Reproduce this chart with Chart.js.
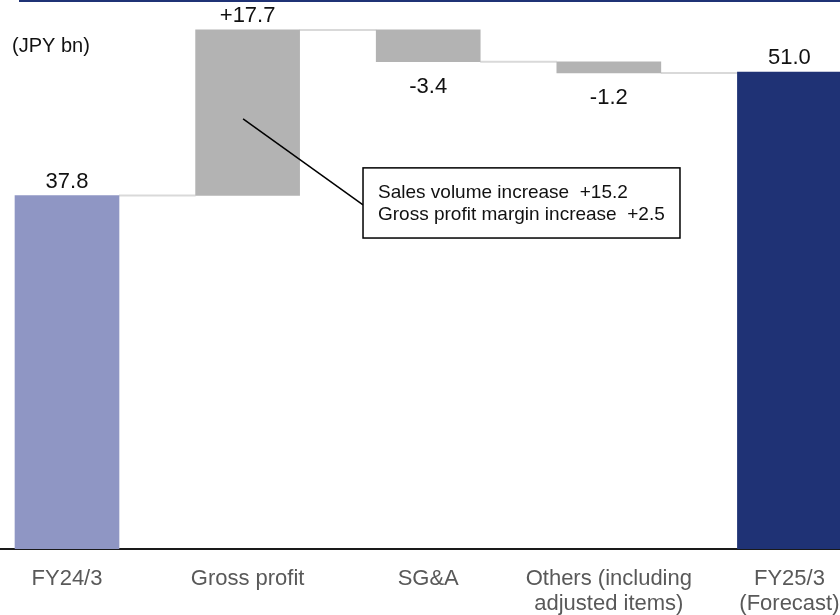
<!DOCTYPE html>
<html>
<head>
<meta charset="utf-8">
<script src="https://cdn.jsdelivr.net/npm/chart.js@4.4.1/dist/chart.umd.min.js"></script>
<style>
  html, body { margin: 0; padding: 0; background: #fff; }
  #wrap { width: 840px; height: 615px; }
</style>
</head>
<body>
<div id="wrap"><canvas id="chart" width="840" height="615"></canvas></div>
<script>
// data (JPY bn)
const categories = [
  ["FY24/3"],
  ["Gross profit"],
  ["SG&A"],
  ["Others (including", "adjusted items)"],
  ["FY25/3", "(Forecast)"],
];
const openingValue = 37.8;
const changes = [17.7, -3.4, -1.2];
const closingValue = 51.0;
const valueLabels = ["37.8", "+17.7", "-3.4", "-1.2", "51.0"];
const breakdownLines = ["Sales volume increase  +15.2", "Gross profit margin increase  +2.5"];
const unitLabel = "(JPY bn)";

const FONT = "'Liberation Sans', Arial, sans-serif";
const colors = {
  start: "#8f96c4",
  step: "#b3b3b3",
  end: "#1f3275",
  connector: "#d9d9d9",
  rule: "#1f3275",
  axis: "#1a1a1a",
  tick: "#595959",
  text: "#111",
};

// floating ranges for the waterfall
const ranges = [[0, openingValue]];
let running = openingValue;
changes.forEach((d) => {
  ranges.push([running, running + d]);
  running += d;
});
ranges.push([0, closingValue]);

const barColors = ranges.map((_, i) =>
  i === 0 ? colors.start : i === ranges.length - 1 ? colors.end : colors.step,
);

const waterfallDecor = {
  id: "waterfallDecor",
  beforeDatasetsDraw(chart) {
    const { ctx, scales } = chart;
    const bars = chart.getDatasetMeta(0).data;
    ctx.save();
    ctx.strokeStyle = colors.connector;
    ctx.lineWidth = 2;
    for (let i = 0; i < bars.length - 1; i++) {
      const yy = scales.y.getPixelForValue(ranges[i][1]);
      ctx.beginPath();
      ctx.moveTo(bars[i].x + bars[i].width / 2, yy);
      ctx.lineTo(bars[i + 1].x - bars[i + 1].width / 2, yy);
      ctx.stroke();
    }
    ctx.restore();
  },
  afterDatasetsDraw(chart) {
    const { ctx, scales } = chart;
    const { x, y } = scales;
    const bars = chart.getDatasetMeta(0).data;
    ctx.save();

    // value labels
    ctx.fillStyle = colors.text;
    ctx.font = `22px ${FONT}`;
    ctx.textAlign = "center";
    ctx.textBaseline = "middle";
    bars.forEach((bar, i) => {
      const [a, b] = ranges[i];
      if (b >= a) {
        ctx.fillText(valueLabels[i], bar.x, y.getPixelForValue(b) - 14);
      } else {
        ctx.fillText(valueLabels[i], bar.x, y.getPixelForValue(b) + 25);
      }
    });

    // top rule of the slide
    ctx.strokeStyle = colors.rule;
    ctx.lineWidth = 2;
    ctx.beginPath();
    ctx.moveTo(19, 1);
    ctx.lineTo(chart.width, 1);
    ctx.stroke();

    // unit
    ctx.font = `20px ${FONT}`;
    ctx.textAlign = "left";
    ctx.fillText(unitLabel, 12, 46);

    // callout on the gross profit bar
    const from = { x: x.getPixelForValue(0.975), y: y.getPixelForValue(46) };
    const to = { x: x.getPixelForValue(1.639), y: y.getPixelForValue(36.8) };
    const boxL = to.x;
    const boxR = x.getPixelForValue(3.394);
    const boxT = y.getPixelForValue(40.75);
    const boxB = y.getPixelForValue(33.25);
    ctx.strokeStyle = "#000";
    ctx.lineWidth = 1.5;
    ctx.beginPath();
    ctx.moveTo(from.x, from.y);
    ctx.lineTo(to.x, to.y);
    ctx.stroke();
    ctx.fillStyle = "#fff";
    ctx.fillRect(boxL, boxT, boxR - boxL, boxB - boxT);
    ctx.strokeRect(boxL, boxT, boxR - boxL, boxB - boxT);
    ctx.fillStyle = colors.text;
    ctx.font = `19px ${FONT}`;
    breakdownLines.forEach((line, i) => {
      ctx.fillText(line, boxL + 15, boxT + 25 + i * 22);
    });

    ctx.restore();
  },
};

new Chart(document.getElementById("chart"), {
  type: "bar",
  data: {
    datasets: [
      {
        data: ranges.map((r, i) => ({ x: i, y: r })),
        backgroundColor: barColors,
        borderWidth: 0,
        barThickness: 104,
      },
    ],
  },
  options: {
    responsive: false,
    animation: false,
    layout: { padding: 0 },
    plugins: {
      legend: { display: false },
      tooltip: { enabled: false },
    },
    scales: {
      x: {
        type: "linear",
        min: -0.371,
        max: 4.28,
        offset: false,
        grid: { display: false, drawTicks: false },
        border: { display: true, color: colors.axis, width: 2 },
        afterBuildTicks: (s) => {
          s.ticks = categories.map((_, i) => ({ value: i }));
        },
        afterFit: (s) => {
          // slide crops the last label, so keep the plot full width
          s.height = 66;
          s.paddingLeft = 0;
          s.paddingRight = 0;
        },
        ticks: {
          autoSkip: false,
          maxRotation: 0,
          padding: 17,
          color: colors.tick,
          font: { family: FONT, size: 22, lineHeight: 1.15 },
          callback: (v) => categories[v],
        },
      },
      y: { display: false, min: 0, max: 58.7 },
    },
  },
  plugins: [waterfallDecor],
});
</script>
</body>
</html>
